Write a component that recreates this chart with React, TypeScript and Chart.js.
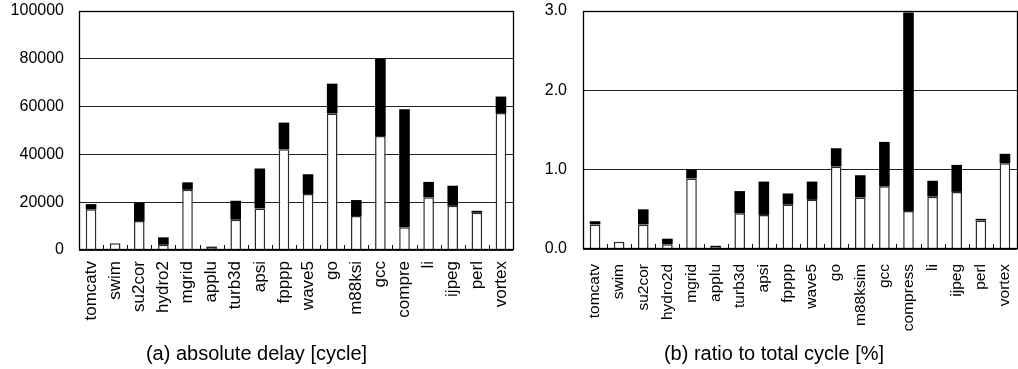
import React, { useEffect, useRef } from "react";
import { Chart, registerables } from "chart.js";

Chart.register(...registerables);

const leftCategories = ["tomcatv", "swim", "su2cor", "hydro2", "mgrid", "applu", "turb3d", "apsi", "fpppp", "wave5", "go", "m88ksi", "gcc", "compre", "li", "ijpeg", "perl", "vortex"];
const leftWhite = [17000, 2800, 12100, 2200, 25200, 900, 12700, 17400, 42200, 23400, 57100, 14200, 47700, 9500, 22100, 18500, 15600, 57300];
const leftBlack = [2200, 0, 7800, 3100, 3100, 500, 7900, 16700, 11100, 8300, 12500, 6700, 32300, 49400, 6400, 8400, 800, 6900];
const leftTitle = "(a) absolute delay [cycle]";

const rightCategories = ["tomcatv", "swim", "su2cor", "hydro2d", "mgrid", "applu", "turb3d", "apsi", "fpppp", "wave5", "go", "m88ksim", "gcc", "compress", "li", "ijpeg", "perl", "vortex"];
const rightWhite = [0.31, 0.09, 0.31, 0.06, 0.89, 0.025, 0.45, 0.43, 0.56, 0.62, 1.04, 0.65, 0.79, 0.48, 0.66, 0.72, 0.36, 1.08];
const rightBlack = [0.04, 0, 0.19, 0.07, 0.11, 0.015, 0.28, 0.42, 0.14, 0.23, 0.23, 0.28, 0.56, 2.5, 0.2, 0.34, 0.02, 0.12];
const rightTitle = "(b) ratio to total cycle [%]";

const FONT = "'Liberation Sans', Arial, Helvetica, sans-serif";

const framePlugin = {
  id: "frameTicks",
  afterDatasetsDraw(chart: any) {
    const { ctx, chartArea } = chart;
    const { left, right, top, bottom } = chartArea;
    const x = chart.scales.x;
    const n = chart.data.labels.length;
    ctx.save();
    ctx.strokeStyle = "#111";
    ctx.lineWidth = 1;
    ctx.beginPath();
    for (let i = 0; i < n - 1; i++) {
      const px = Math.round((x.getPixelForValue(i) + x.getPixelForValue(i + 1)) / 2) + 0.5;
      ctx.moveTo(px, bottom);
      ctx.lineTo(px, bottom - 5);
    }
    ctx.stroke();
    ctx.strokeStyle = "#000";
    ctx.lineWidth = 1.3;
    ctx.strokeRect(Math.round(left) + 0.5, Math.round(top) + 0.5, Math.round(right - left), Math.round(bottom - top) - 1);
    ctx.restore();
  },
};

function makeConfig(opts: {
  labels: string[];
  white: number[];
  black: number[];
  title: string;
  max: number;
  step: number;
  fmt: (v: number) => string;
  yWidth: number;
  xHeight: number;
  xFont: number;
  xPad: number;
  yPad: number;
  padRight: number;
}): any {
  return {
    type: "bar",
    data: {
      labels: opts.labels,
      datasets: [
        {
          data: opts.white,
          backgroundColor: "#ffffff",
          borderColor: "#2a2a2a",
          borderWidth: 1.5,
          barPercentage: 0.44,
          categoryPercentage: 1,
        },
        {
          data: opts.black,
          backgroundColor: "#000000",
          borderColor: "#000000",
          borderWidth: 0,
          barPercentage: 0.44,
          categoryPercentage: 1,
        },
      ],
    },
    options: {
      animation: false,
      responsive: false,
      devicePixelRatio: 1,
      layout: { padding: { top: 11, right: opts.padRight, left: 0, bottom: 0 } },
      plugins: {
        legend: { display: false },
        tooltip: { enabled: false },
        title: {
          display: true,
          position: "bottom",
          text: opts.title,
          color: "#000",
          font: { size: 20, family: FONT, weight: "normal" },
          padding: { top: 4, bottom: 3 },
        },
      },
      scales: {
        x: {
          stacked: true,
          grid: { display: false, drawTicks: false, tickLength: 0 },
          border: { display: false },
          ticks: {
            autoSkip: false,
            minRotation: 90,
            maxRotation: 90,
            padding: opts.xPad,
            color: "#000",
            font: { size: opts.xFont, family: FONT },
          },
          afterFit: (s: any) => {
            s.height = opts.xHeight;
            s.paddingLeft = 0;
            s.paddingRight = 0;
            s.paddingTop = 0;
            s.paddingBottom = 0;
          },
        },
        y: {
          stacked: true,
          min: 0,
          max: opts.max,
          grid: { color: "#222222", lineWidth: 1, drawTicks: false },
          border: { display: false },
          ticks: {
            stepSize: opts.step,
            padding: opts.yPad,
            color: "#000",
            font: { size: 16, family: FONT },
            callback: (v: any) => opts.fmt(Number(v)),
          },
          afterFit: (s: any) => {
            s.width = opts.yWidth;
            s.paddingLeft = 0;
            s.paddingRight = 0;
            s.paddingTop = 0;
            s.paddingBottom = 0;
          },
        },
      },
    },
    plugins: [framePlugin],
  };
}

export default function App() {
  const leftRef = useRef<HTMLCanvasElement>(null);
  const rightRef = useRef<HTMLCanvasElement>(null);

  useEffect(() => {
    const c1 = new Chart(
      leftRef.current as HTMLCanvasElement,
      makeConfig({
        labels: leftCategories,
        white: leftWhite,
        black: leftBlack,
        title: leftTitle,
        max: 100000,
        step: 20000,
        fmt: (v) => String(v),
        yWidth: 79,
        xHeight: 88,
        xFont: 17,
        xPad: 11,
        yPad: 15,
        padRight: 7,
      })
    );
    const c2 = new Chart(
      rightRef.current as HTMLCanvasElement,
      makeConfig({
        labels: rightCategories,
        white: rightWhite,
        black: rightBlack,
        title: rightTitle,
        max: 3,
        step: 1,
        fmt: (v) => v.toFixed(1),
        yWidth: 52,
        xHeight: 89,
        xFont: 15.5,
        xPad: 15,
        yPad: 16,
        padRight: 1,
      })
    );
    return () => {
      c1.destroy();
      c2.destroy();
    };
  }, []);

  return (
    <div style={{ position: "absolute", left: 0, top: 0, width: 1018, height: 369, background: "#fff" }}>
      <canvas ref={leftRef} width={520} height={369} style={{ position: "absolute", left: 0, top: 0 }} />
      <canvas ref={rightRef} width={487} height={369} style={{ position: "absolute", left: 531, top: 0 }} />
    </div>
  );
}
